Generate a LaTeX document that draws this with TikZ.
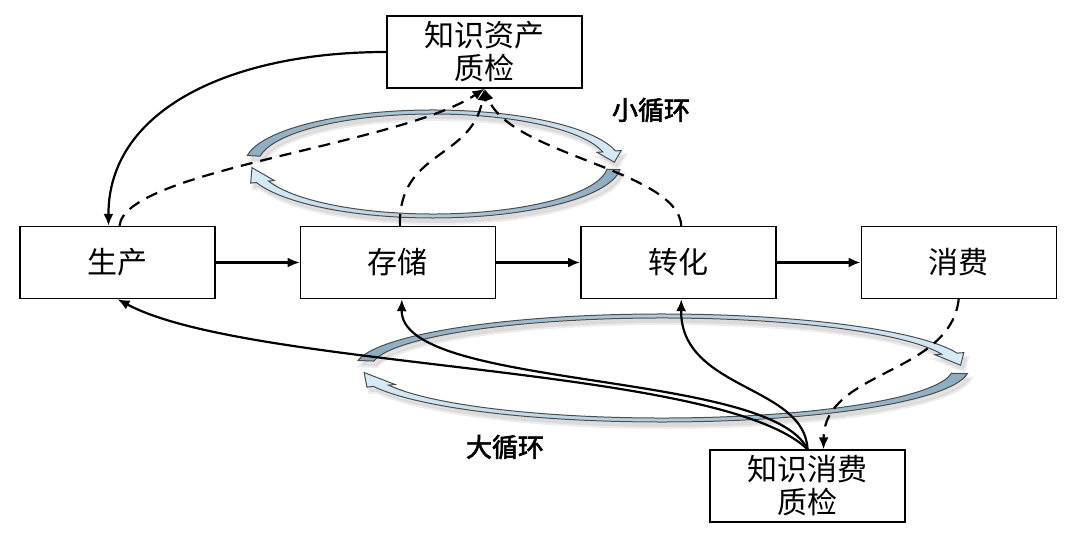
\documentclass[tikz,border=0pt]{standalone}
\usepackage{fontspec}
\setmainfont{Noto Sans CJK SC}[AutoFakeBold=2.5]
\usetikzlibrary{arrows.meta, positioning}

\definecolor{ringdark}{RGB}{140,172,192}
\definecolor{ringlight}{RGB}{214,236,248}

% clockwise band arrow on an ellipse round the origin
\newcommand\ringarrow[9][]{%
  \pgfmathsetmacro\rxi{#2-#4}\pgfmathsetmacro\ryi{#3-#5}%
  \pgfmathsetmacro\rxo{#2+#9}\pgfmathsetmacro\ryo{#3+#9*#5/#4}%
  \pgfmathsetmacro\rxn{#2-#4-#9}\pgfmathsetmacro\ryn{#3-#5-#9*#5/#4}%
  \pgfmathsetmacro\rxm{#2-#4/2}\pgfmathsetmacro\rym{#3-#5/2}%
  \path[#1] ({#2*cos(#6)},{#3*sin(#6)})
    arc[start angle=#6, end angle=#7, x radius=#2, y radius=#3]
    -- ({\rxo*cos(#7)},{\ryo*sin(#7)}) -- ({\rxm*cos(#8)},{\rym*sin(#8)})
    -- ({\rxn*cos(#7)},{\ryn*sin(#7)}) -- ({\rxi*cos(#7)},{\ryi*sin(#7)})
    arc[start angle=#7, end angle=#6, x radius=\rxi, y radius=\ryi] -- cycle;}

\begin{document}
\begin{tikzpicture}[
    x=0.5pt, y=0.5pt,
    box/.style={draw, line width=0.7pt, align=center, inner sep=0pt,
                minimum width=97.5pt, minimum height=36pt,
                font=\fontsize{15}{16.5}\selectfont},
    lbl/.style={font=\bfseries\fontsize{13}{14}\selectfont},
    arrow/.style={-{Latex[length=6pt, width=5pt]}, line width=1.1pt},
    dasharrow/.style={arrow, dash pattern=on 6pt off 4pt},
    ringfw/.style={draw=black!70, line width=0.5pt, left color=ringdark, right color=ringlight},
    ringbw/.style={draw=black!70, line width=0.5pt, left color=ringlight, right color=ringdark},
    ringshade/.style={fill=black!30, draw=black!20, line width=2pt, opacity=0.35,
                      xshift=1.5pt, yshift=-2.5pt}
]
    \useasboundingbox (0,0) rectangle (1080,-545);

    \begin{scope}[shift={(433,-164)}]
        \ringarrow[ringshade]{188}{54}{13}{4}{171}{14}{2}{6}
        \ringarrow[ringshade]{188}{54}{13}{4}{-6}{-160}{-176}{6}
        \ringarrow[ringfw]{188}{54}{13}{4}{171}{14}{2}{6}
        \ringarrow[ringbw]{188}{54}{13}{4}{-6}{-160}{-176}{6}
    \end{scope}
    \begin{scope}[shift={(662,-368)}]
        \ringarrow[ringshade]{307}{54}{16}{4}{172}{16}{3}{7}
        \ringarrow[ringshade]{307}{54}{16}{4}{-6}{-160}{-175}{7}
        \ringarrow[ringfw]{307}{54}{16}{4}{172}{16}{3}{7}
        \ringarrow[ringbw]{307}{54}{16}{4}{-6}{-160}{-175}{7}
    \end{scope}

    \node[box] (prod) at (117.5,-262.5) {生产};
    \node[box, right=42pt of prod] (stor) {存储};
    \node[box, right=42pt of stor] (conv) {转化};
    \node[box, right=42pt of conv] (cons) {消费};
    \node[box] (aqc) at (484.5,-52) {知识资产\\质检};
    \node[box] (cqc) at (807.5,-486) {知识消费\\质检};
    \node[lbl] (small) at (651,-110) {小循环};
    \node[lbl] (big) at (505,-447) {大循环};

    \draw[arrow] (prod) -- (stor);
    \draw[arrow] (stor) -- (conv);
    \draw[arrow] (conv) -- (cons);

    \draw[arrow] (aqc.west) .. controls (230,-52) and (108,-110) .. ([xshift=-4.5pt]prod.north);
    \draw[dasharrow] ([xshift=1pt]prod.north) .. controls (125,-170) and (400,-145) .. (aqc.south);
    \draw[dasharrow] ([xshift=1pt]stor.north) .. controls (398,-150) and (472,-160) .. (aqc.south);
    \draw[dasharrow] ([xshift=1.5pt]conv.north) .. controls (678,-170) and (510,-155) .. (aqc.south);

    \draw[arrow] (cqc.north) .. controls (720,-365) and (250,-370) .. (prod.south);
    \draw[arrow] (cqc.north) .. controls (770,-370) and (400,-390) .. ([xshift=2pt]stor.south);
    \draw[arrow] (cqc.north) .. controls (805,-385) and (680,-390) .. ([xshift=1.5pt]conv.south);
    \draw[dasharrow] (cons.south) .. controls (950,-375) and (824,-370) .. ([xshift=8pt]cqc.north);
\end{tikzpicture}
\end{document}
